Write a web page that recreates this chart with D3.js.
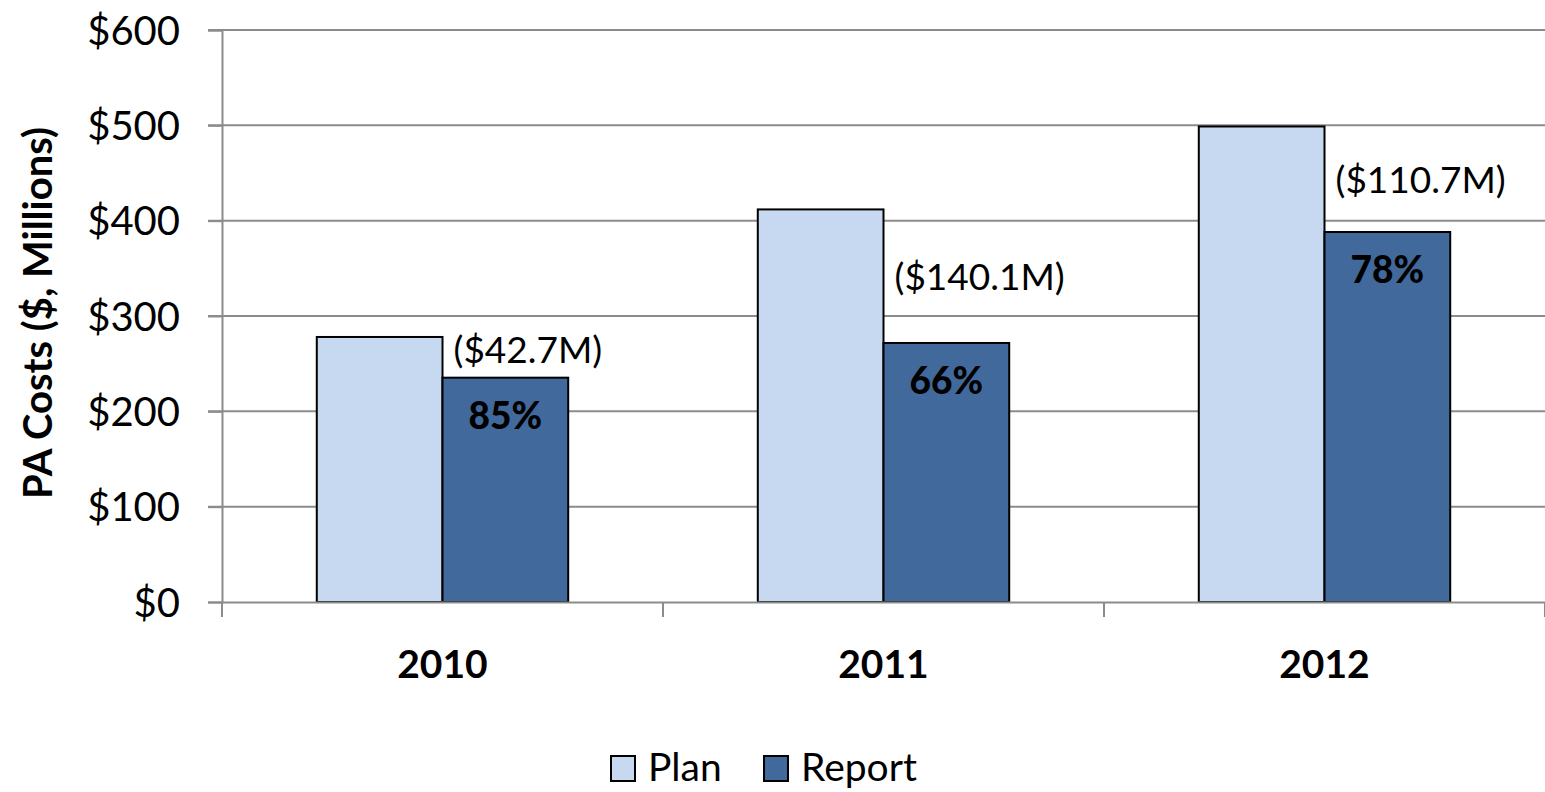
<!DOCTYPE html>
<html>
<head>
<meta charset="utf-8">
<script src="https://cdn.jsdelivr.net/npm/d3@7"></script>
<style>
  body { margin: 0; background: #fff; }
  text { font-family: Lato, "Open Sans", sans-serif; fill: #000; }
</style>
</head>
<body>
<svg id="chart" width="1545" height="792"></svg>
<script>
// data
var years = ["2010", "2011", "2012"];
var planValues = [278.0, 411.8, 498.8];
var reportValues = [235.3, 271.7, 388.1];
var gapLabels = ["($42.7M)", "($140.1M)", "($110.7M)"];
var pctLabels = ["85%", "66%", "78%"];
var yTicks = [0, 100, 200, 300, 400, 500, 600];
var seriesNames = ["Plan", "Report"];

var colors = ["#c6d9f1", "#41699b"];
var gapLift = [15, 53, 39]; // how far the gap label sits above the report bar

var margin = { top: 30, left: 222, right: 0, bottom: 190 };
var width = 1545, height = 792;

var svg = d3.select("#chart");

var x = d3.scaleBand()
          .domain(years)
          .range([margin.left, width - margin.right])
          .paddingInner(0)
          .paddingOuter(0);

var inner = d3.scaleBand()
              .domain(seriesNames)
              .range([0, x.bandwidth()])
              .paddingOuter(0.754)
              .paddingInner(0);

var y = d3.scaleLinear()
          .domain([0, 600])
          .range([height - margin.bottom, margin.top]);

// gridlines
svg.append("g")
   .selectAll("line")
   .data(yTicks.slice(1))
   .enter()
   .append("line")
   .attr("x1", margin.left - 14)
   .attr("x2", width)
   .attr("y1", function (d) { return y(d); })
   .attr("y2", function (d) { return y(d); })
   .attr("stroke", "#8c8c8c")
   .attr("stroke-width", 2);

// y axis
var yAxis = svg.append("g")
   .attr("transform", "translate(" + margin.left + ",0)")
   .call(d3.axisLeft(y).tickValues(yTicks).tickSize(14).tickPadding(28)
           .tickFormat(function (d) { return "$" + d; }));
yAxis.select(".domain").attr("stroke", "#8c8c8c").attr("stroke-width", 2);
yAxis.selectAll(".tick line").attr("stroke", "#8c8c8c").attr("stroke-width", 2);
yAxis.selectAll(".tick text")
     .attr("font-size", 40)
     .attr("dy", "0.35em")
     .style("font-family", "Lato, sans-serif");

// bars
var groups = svg.append("g")
   .selectAll("g")
   .data(years)
   .enter()
   .append("g")
   .attr("transform", function (d) { return "translate(" + x(d) + ",0)"; });

groups.selectAll("rect")
   .data(function (d, i) { return [planValues[i], reportValues[i]]; })
   .enter()
   .append("rect")
   .attr("x", function (d, j) { return inner(seriesNames[j]); })
   .attr("width", inner.bandwidth())
   .attr("y", function (d) { return y(d); })
   .attr("height", function (d) { return y(0) - y(d); })
   .attr("fill", function (d, j) { return colors[j]; })
   .attr("stroke", "#000")
   .attr("stroke-width", 2);

// x axis
var xAxis = svg.append("g")
   .attr("transform", "translate(0," + y(0) + ")")
   .call(d3.axisBottom(x).tickSize(0).tickPadding(0));
xAxis.select(".domain").attr("stroke", "#8c8c8c").attr("stroke-width", 2);
xAxis.selectAll(".tick text").remove();
svg.append("g")
   .selectAll("line")
   .data(years.concat(["end"]))
   .enter()
   .append("line")
   .attr("x1", function (d, i) { return margin.left + i * x.bandwidth(); })
   .attr("x2", function (d, i) { return margin.left + i * x.bandwidth(); })
   .attr("y1", y(0))
   .attr("y2", y(0) + 15)
   .attr("stroke", "#8c8c8c")
   .attr("stroke-width", 2);

svg.append("g")
   .selectAll("text")
   .data(years)
   .enter()
   .append("text")
   .attr("x", function (d) { return x(d) + x.bandwidth() / 2; })
   .attr("y", 678)
   .attr("text-anchor", "middle")
   .attr("font-size", 39)
   .attr("font-weight", "bold")
   .text(function (d) { return d; });

// percent labels inside report bars
svg.append("g")
   .selectAll("text")
   .data(pctLabels)
   .enter()
   .append("text")
   .attr("x", function (d, i) { return x(years[i]) + inner("Report") + inner.bandwidth() / 2; })
   .attr("y", function (d, i) { return y(reportValues[i]) + 51; })
   .attr("text-anchor", "middle")
   .attr("font-size", 37)
   .attr("font-weight", 900)
   .text(function (d) { return d; });

// gap labels above report bars
svg.append("g")
   .selectAll("text")
   .data(gapLabels)
   .enter()
   .append("text")
   .attr("x", function (d, i) { return x(years[i]) + inner("Report") + 11; })
   .attr("y", function (d, i) { return y(reportValues[i]) - gapLift[i]; })
   .attr("font-size", 37)
   .text(function (d) { return d; });

// y axis title
svg.append("text")
   .attr("transform", "translate(52," + ((margin.top + y(0)) / 2 - 3) + ") rotate(-90)")
   .attr("text-anchor", "middle")
   .attr("font-size", 40)
   .attr("font-weight", "bold")
   .text("PA Costs ($, Millions)");

// legend
var legendX = [611, 764];
var legend = svg.append("g")
   .selectAll("g")
   .data(seriesNames)
   .enter()
   .append("g")
   .attr("transform", function (d, i) { return "translate(" + legendX[i] + ",756)"; });
legend.append("rect")
   .attr("width", 24)
   .attr("height", 25)
   .attr("fill", function (d, i) { return colors[i]; })
   .attr("stroke", "#000")
   .attr("stroke-width", 2);
legend.append("text")
   .attr("x", 37)
   .attr("y", 25)
   .attr("font-size", 39)
   .text(function (d) { return d; });
</script>
</body>
</html>
